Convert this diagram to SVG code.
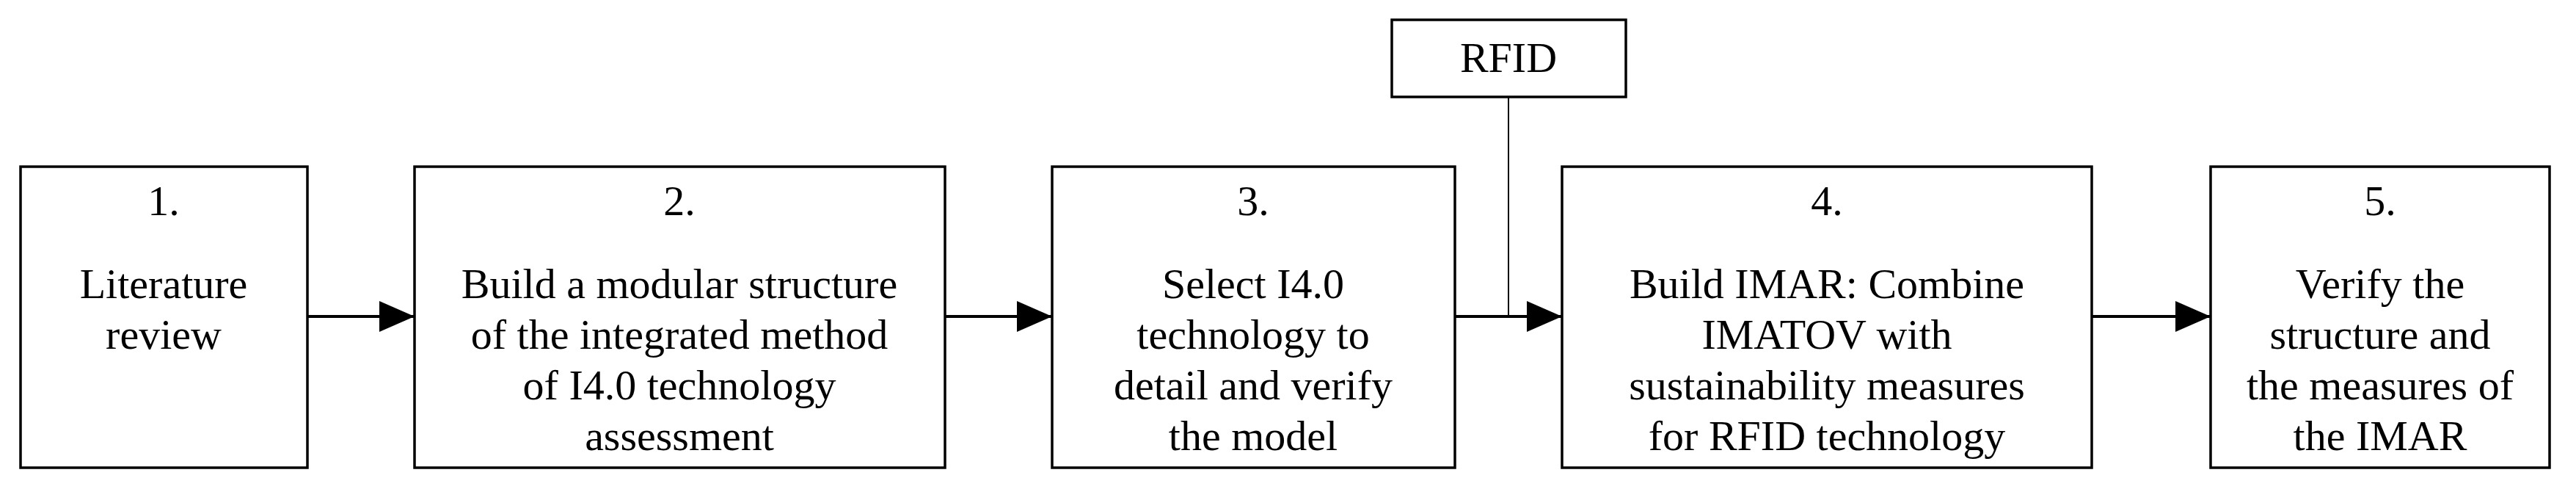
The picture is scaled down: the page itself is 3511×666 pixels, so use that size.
<svg xmlns="http://www.w3.org/2000/svg" width="3511" height="666" viewBox="0 0 3511 666">
<style>
.b{fill:#fff;stroke:#000;stroke-width:3.5}
.t{font-family:"Liberation Serif","Times New Roman",serif;font-size:58px;text-anchor:middle;fill:#000}
.c{stroke:#000;stroke-width:4;fill:none}
</style>
<defs><marker id="a" markerUnits="userSpaceOnUse" markerWidth="48" markerHeight="42" refX="48" refY="21" orient="auto"><path d="M0,0L48,21L0,42Z" fill="#000"/></marker></defs>
<rect width="3511" height="666" fill="#fff"/>
<g id="connectors">
<line class="c" x1="419" y1="431" x2="565" y2="431" marker-end="url(#a)"/>
<line class="c" x1="1288" y1="431" x2="1434" y2="431" marker-end="url(#a)"/>
<line class="c" x1="1983" y1="431" x2="2129" y2="431" marker-end="url(#a)"/>
<line class="c" x1="2851" y1="431" x2="3013" y2="431" marker-end="url(#a)"/>
<line x1="2056" y1="132" x2="2056" y2="431" stroke="#000" stroke-width="2"/>
</g>
<g id="n1"><rect class="b" x="28" y="227" width="391" height="410"/><text class="t" x="223" y="293">1.</text><text class="t" x="223" y="406">Literature</text><text class="t" x="223" y="475">review</text></g>
<g id="n2"><rect class="b" x="565" y="227" width="723" height="410"/><text class="t" x="926" y="293">2.</text><text class="t" x="926" y="406">Build a modular structure</text><text class="t" x="926" y="475">of the integrated method</text><text class="t" x="926" y="544">of I4.0 technology</text><text class="t" x="926" y="613">assessment</text></g>
<g id="n3"><rect class="b" x="1434" y="227" width="549" height="410"/><text class="t" x="1708" y="293">3.</text><text class="t" x="1708" y="406">Select I4.0</text><text class="t" x="1708" y="475">technology to</text><text class="t" x="1708" y="544">detail and verify</text><text class="t" x="1708" y="613">the model</text></g>
<g id="rfid"><rect class="b" x="1897" y="27" width="319" height="105"/><text class="t" x="2056" y="98">RFID</text></g>
<g id="n4"><rect class="b" x="2129" y="227" width="722" height="410"/><text class="t" x="2490" y="293">4.</text><text class="t" x="2490" y="406">Build IMAR: Combine</text><text class="t" x="2490" y="475">IMATOV with</text><text class="t" x="2490" y="544">sustainability measures</text><text class="t" x="2490" y="613">for RFID technology</text></g>
<g id="n5"><rect class="b" x="3013" y="227" width="462" height="410"/><text class="t" x="3244" y="293">5.</text><text class="t" x="3244" y="406">Verify the</text><text class="t" x="3244" y="475">structure and</text><text class="t" x="3244" y="544">the measures of</text><text class="t" x="3244" y="613">the IMAR</text></g>
</svg>
